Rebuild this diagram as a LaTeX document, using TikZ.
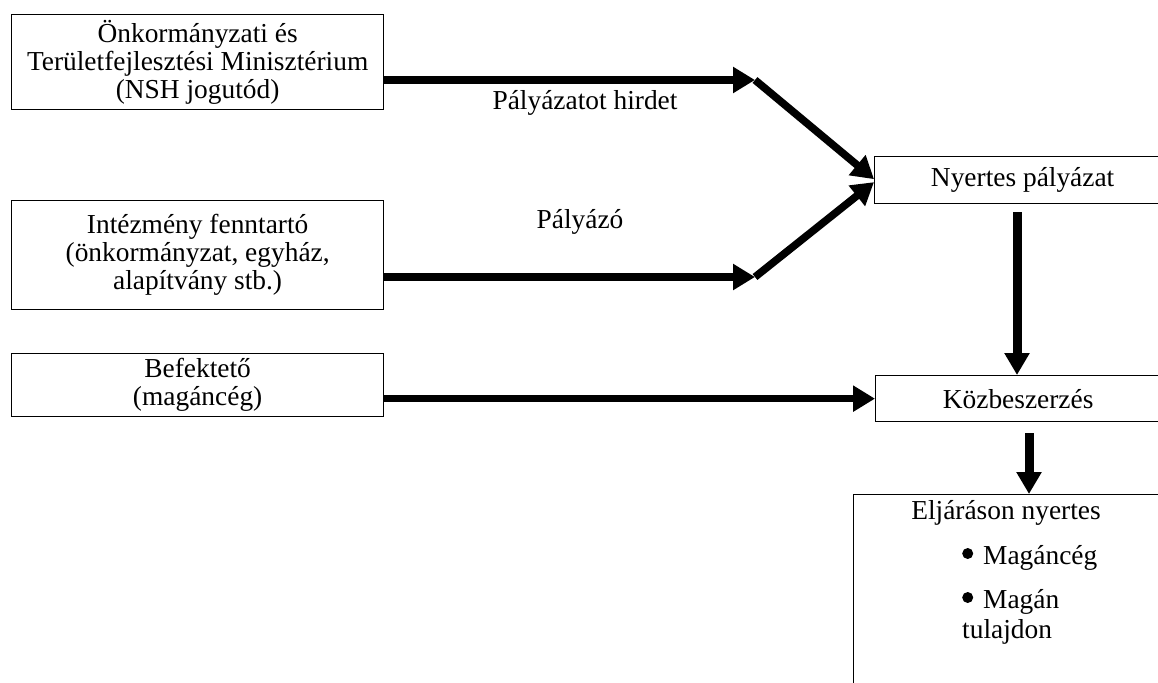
\documentclass[tikz,border=0pt]{standalone}
\usepackage{fontspec}
\setmainfont{Liberation Serif}
\usetikzlibrary{arrows.meta}
\newcommand\mybul{\tikz[baseline=0pt]\fill (5.5pt,10.5pt) circle (5.5pt);}
\begin{document}
\begin{tikzpicture}[x=1pt,y=-1pt,
  box/.style={draw=black,line width=1.3pt,rectangle,inner sep=0pt,align=center,anchor=north west,
    font=\fontsize{27.4}{28}\selectfont},
  lbl/.style={inner sep=0pt,font=\fontsize{27.4}{28}\selectfont},
  fat/.style={line width=7.6pt,-{Triangle[length=22pt,width=25pt]}},
  vfat/.style={line width=9pt,-{Triangle[length=22pt,width=24pt]}}]
\useasboundingbox (0,0) rectangle (1158,682);
\clip (0,0) rectangle (1158,682);
% boxes
\node[box,minimum width=372pt,minimum height=95pt] (b1) at (11,14)
  {Önkormányzati és\\Területfejlesztési Minisztérium\\(NSH jogutód)};
\node[box,minimum width=372pt,minimum height=109pt] (b2) at (11,200)
  {Intézmény fenntartó\\(önkormányzat, egyház,\\alapítvány stb.)};
\node[box,minimum width=372pt,minimum height=63pt] (b3) at (11,353)
  {Befektető\\(magáncég)};
\node[box,minimum width=296pt,minimum height=47pt] (nyer) at (874,156) {Nyertes pályázat};
\node[box,minimum width=285pt,minimum height=46pt] (kozb) at (875,375) {Közbeszerzés};
\node[box,minimum width=310pt,minimum height=200pt] (elj) at (853,494) {};
% texts in last box
\node[lbl] (eljt) at (1006,513) {Eljáráson nyertes};
\node[lbl,anchor=base west] (it1) at (962,564) {\mybul\hspace{10pt}Magáncég};
\node[lbl,anchor=base west] (it2) at (962,608) {\mybul\hspace{10pt}Magán};
\node[lbl,anchor=base west] (it3) at (962,638) {tulajdon};
% labels
\node[lbl] (l1) at (585,103) {Pályázatot hirdet};
\node[lbl] (l2) at (580,222) {Pályázó};
% coordinates
\coordinate (c1) at (755,80);
\coordinate (c2) at (755,277);
\coordinate (v1) at (1017,0);
\coordinate (v2) at (1029,0);
% connectors
\draw[fat] (b1.east |- c1) -- (c1);
\draw[fat] (c1) -- ([yshift=1pt]nyer.west);
\draw[fat] (b2.east |- c2) -- (c2);
\draw[fat] (c2) -- ([yshift=-2pt]nyer.west);
\draw[fat] (b3.east |- kozb.west) -- (kozb.west);
\draw[vfat] ([yshift=-8pt]nyer.south -| v1) -- (kozb.north -| v1);
\draw[vfat] ([yshift=-11pt]kozb.south -| v2) -- (elj.north -| v2);
\end{tikzpicture}
\end{document}
